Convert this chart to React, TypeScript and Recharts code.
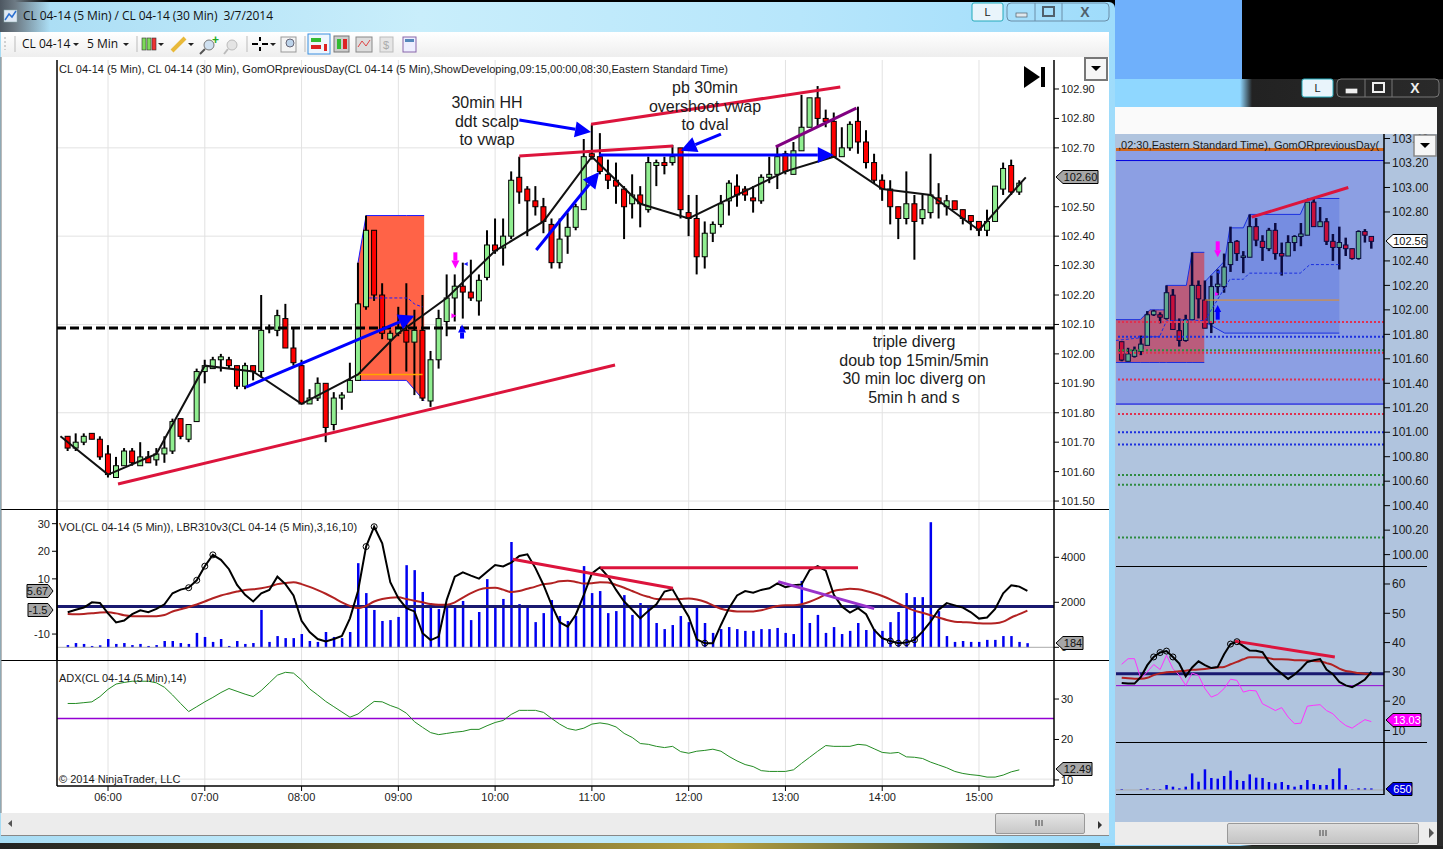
import {
  Area,
  Bar,
  CartesianGrid,
  ComposedChart,
  Line,
  ReferenceArea,
  ReferenceLine,
  XAxis,
  YAxis,
} from 'recharts';

const FONT = '"Liberation Sans", Arial, sans-serif';
const TITLE_FONT = '"Open Sans", "Noto Sans", sans-serif';

// ---- 5 min window ----
const hourLabels = ['06:00', '07:00', '08:00', '09:00', '10:00', '11:00', '12:00', '13:00', '14:00', '15:00'];
const hourIndex = [5, 17, 29, 41, 53, 65, 77, 89, 101, 113];

// 102.60 sits under the price flag, so it has no tick label of its own
const priceTicks = [101.5, 101.6, 101.7, 101.8, 101.9, 102.0, 102.1, 102.2, 102.3, 102.4, 102.5, 102.7, 102.8, 102.9];

// open, high, low, close
const bars5m = [
  [101.72, 101.72, 101.67, 101.68], [101.68, 101.73, 101.67, 101.7], [101.7, 101.73, 101.69, 101.72], [101.73, 101.73, 101.71, 101.71],
  [101.71, 101.72, 101.64, 101.65], [101.66, 101.69, 101.58, 101.59], [101.58, 101.65, 101.58, 101.62], [101.62, 101.68, 101.62, 101.67],
  [101.67, 101.68, 101.62, 101.63], [101.62, 101.7, 101.62, 101.65], [101.65, 101.67, 101.63, 101.63], [101.64, 101.68, 101.62, 101.66],
  [101.66, 101.72, 101.63, 101.68], [101.67, 101.78, 101.66, 101.77], [101.78, 101.78, 101.71, 101.72], [101.71, 101.76, 101.7, 101.76],
  [101.77, 101.95, 101.77, 101.94], [101.94, 101.98, 101.9, 101.96], [101.95, 101.99, 101.95, 101.98], [101.98, 102.0, 101.94, 101.99],
  [101.98, 101.99, 101.95, 101.96], [101.96, 101.96, 101.88, 101.89], [101.89, 101.97, 101.88, 101.96], [101.96, 101.96, 101.91, 101.94],
  [101.94, 102.2, 101.92, 102.08], [102.09, 102.1, 102.07, 102.09], [102.08, 102.15, 102.06, 102.13], [102.12, 102.17, 102.02, 102.02],
  [102.02, 102.09, 101.96, 101.97], [101.96, 101.98, 101.83, 101.83], [101.83, 101.88, 101.83, 101.85], [101.85, 101.92, 101.84, 101.9],
  [101.9, 101.9, 101.7, 101.75], [101.76, 101.87, 101.74, 101.85], [101.85, 101.87, 101.81, 101.86], [101.87, 101.97, 101.87, 101.91],
  [101.91, 102.31, 101.91, 102.17], [102.16, 102.47, 102.15, 102.42], [102.42, 102.42, 102.18, 102.2], [102.2, 102.24, 102.05, 102.07],
  [102.05, 102.08, 101.93, 102.07], [102.07, 102.16, 102.06, 102.09], [102.08, 102.24, 101.94, 102.04], [102.04, 102.15, 101.86, 102.08],
  [102.08, 102.2, 101.84, 101.85], [101.84, 102.01, 101.82, 101.98], [101.98, 102.15, 101.95, 102.12], [102.11, 102.27, 102.06, 102.19],
  [102.19, 102.27, 102.11, 102.23], [102.23, 102.31, 102.12, 102.21], [102.21, 102.32, 102.18, 102.19], [102.18, 102.27, 102.13, 102.25],
  [102.26, 102.42, 102.25, 102.37], [102.37, 102.46, 102.34, 102.35], [102.36, 102.46, 102.3, 102.4], [102.4, 102.62, 102.39, 102.59],
  [102.6, 102.67, 102.51, 102.55], [102.56, 102.57, 102.4, 102.52], [102.52, 102.57, 102.47, 102.5], [102.5, 102.53, 102.41, 102.45],
  [102.44, 102.46, 102.29, 102.31], [102.31, 102.46, 102.29, 102.39], [102.4, 102.48, 102.34, 102.43], [102.43, 102.51, 102.42, 102.5],
  [102.49, 102.73, 102.49, 102.67], [102.68, 102.78, 102.66, 102.67], [102.67, 102.75, 102.61, 102.62], [102.61, 102.66, 102.56, 102.59],
  [102.59, 102.65, 102.51, 102.57], [102.56, 102.57, 102.39, 102.5], [102.51, 102.61, 102.46, 102.54], [102.54, 102.57, 102.43, 102.51],
  [102.49, 102.67, 102.48, 102.65], [102.64, 102.66, 102.57, 102.65], [102.65, 102.67, 102.61, 102.64], [102.65, 102.71, 102.64, 102.67],
  [102.7, 102.7, 102.46, 102.49], [102.48, 102.54, 102.4, 102.46], [102.46, 102.54, 102.27, 102.33], [102.33, 102.45, 102.29, 102.41],
  [102.41, 102.45, 102.38, 102.44], [102.44, 102.54, 102.43, 102.51], [102.52, 102.59, 102.47, 102.58], [102.57, 102.61, 102.5, 102.54],
  [102.56, 102.57, 102.52, 102.54], [102.53, 102.57, 102.48, 102.52], [102.52, 102.61, 102.51, 102.6], [102.6, 102.67, 102.58, 102.61],
  [102.61, 102.71, 102.56, 102.67], [102.68, 102.69, 102.61, 102.62], [102.61, 102.72, 102.61, 102.69], [102.69, 102.88, 102.69, 102.77],
  [102.77, 102.87, 102.77, 102.87], [102.87, 102.91, 102.77, 102.8], [102.8, 102.83, 102.77, 102.79], [102.79, 102.82, 102.67, 102.67],
  [102.67, 102.77, 102.67, 102.7], [102.7, 102.79, 102.69, 102.78], [102.79, 102.84, 102.68, 102.72], [102.72, 102.76, 102.63, 102.65],
  [102.65, 102.68, 102.58, 102.59], [102.59, 102.61, 102.52, 102.56], [102.56, 102.59, 102.44, 102.5], [102.5, 102.5, 102.39, 102.46],
  [102.46, 102.62, 102.44, 102.51], [102.51, 102.54, 102.32, 102.45], [102.46, 102.54, 102.44, 102.49], [102.48, 102.68, 102.46, 102.54],
  [102.53, 102.58, 102.46, 102.51], [102.5, 102.54, 102.47, 102.52], [102.52, 102.52, 102.49, 102.49], [102.49, 102.49, 102.44, 102.46],
  [102.47, 102.47, 102.42, 102.45], [102.45, 102.45, 102.4, 102.42], [102.42, 102.49, 102.4, 102.45], [102.45, 102.57, 102.45, 102.57],
  [102.56, 102.65, 102.54, 102.63], [102.64, 102.66, 102.54, 102.55], [102.55, 102.59, 102.54, 102.58],
];

// the 30 min close line drawn over the 5 min bars
const line30Index = [-0.9, 5, 11, 17, 23, 29, 36, 41, 47, 53, 59, 65, 71, 77, 83, 89, 95, 101, 107, 113, 118.8];
const line30Price = [101.72, 101.59, 101.66, 101.96, 101.94, 101.83, 101.93, 102.07, 102.19, 102.35, 102.45, 102.67, 102.51, 102.46, 102.54, 102.62, 102.67, 102.56, 102.54, 102.42, 102.6];

// opening range block
const rangeIndex = [36, 37, 42, 44.2];
const rangeLow = [101.91, 101.91, 101.91, 101.84];
const rangeHigh = [102.31, 102.47, 102.47, 102.47];
const rangeMidIndex = [37.4, 42, 43, 44];
const rangeMidPrice = [102.19, 102.19, 102.17, 102.16];

const crimsonLines = [
  [6.24, 101.558, 67.87, 101.962],
  [56, 102.672, 75.05, 102.706],
  [64.9, 102.78, 95.8, 102.907],
];
const blueArrows = [
  [22.1, 101.887, 43, 102.13],
  [58.1, 102.353, 65.9, 102.618],
  [56, 102.795, 64.9, 102.754],
  [81, 102.747, 76, 102.69],
  [65.9, 102.676, 95, 102.676],
];

const volumes = [
  100, 190, 150, 60, 90, 370, 150, 190, 100, 150, 60, 100, 280, 280, 190, 150, 640, 460, 240, 370,
  60, 280, 150, 190, 1660, 240, 500, 410, 410, 590, 280, 240, 680, 460, 410, 680, 3740, 2410, 1660, 1170,
  1210, 1350, 3650, 3430, 2460, 1970, 1700, 1790, 1790, 2060, 1210, 1570, 3030, 1790, 2150, 4680, 1920, 1790, 1120, 1520,
  2100, 1390, 1170, 1390, 3610, 2410, 2500, 1520, 1610, 2320, 1440, 1970, 1790, 1080, 810, 990, 1390, 1120, 1790, 1080,
  640, 810, 900, 810, 730, 730, 810, 810, 860, 640, 590, 2950, 1080, 1440, 640, 900, 590, 730, 1080, 770,
  810, 730, 1120, 1570, 2410, 2230, 2230, 5560, 1610, 500, 240, 280, 240, 240, 330, 330, 500, 500, 240, 184,
];
const lbrFast = [
  -2.1, -1.2, -0.4, 1.5, 1.3, -2.5, -5.8, -5.1, -2.8, -1.4, -2.1, -0.9, 0.8, 4.8, 6.1, 6.8, 9.5, 14.6, 18.7, 16.9,
  13.5, 7.8, 4.2, 1.8, 4.8, 6, 10.8, 8.1, 4, -5.2, -9.3, -11.8, -12.7, -11.8, -10.7, -4.3, 5.6, 21.7, 28.9, 22.9,
  8.8, 3, -0.6, -1.8, -9.7, -12.2, -10.9, 2.4, 10.8, 12.4, 11.2, 10.1, 12.6, 15, 14.5, 15.9, 18.3, 18.9, 13.9, 7.8,
  0.6, -5.7, -7.3, -3, 4.2, 12, 14.2, 10.8, 6, 1.8, -1.2, -4.3, -1.6, 0.8, 5.4, 6.2, 1.2, -3.7, -11.9, -13.3,
  -13.3, -6.7, -0.6, 4, 5.6, 5, 6, 6.6, 8.4, 7, 7.7, 8, 13.2, 14.6, 13, 4.2, 0, -2.2, -0.6, -2.8,
  -8.5, -11.5, -12.5, -13.3, -13.1, -12.1, -9.1, -5.5, -1.2, 1.2, 0.4, -0.4, -2.1, -4.4, -4, -0.9, 4.8, 7.7, 7.2, 5.67,
];
const lbrSlow = [
  -2.7, -2.8, -2.7, -2.5, -2.2, -2.1, -2.5, -3.2, -3.5, -3.5, -3.5, -3.5, -3.1, -1.8, -1, -0.2, 0.7, 1.8, 3, 4,
  4.7, 5.4, 6, 6.2, 6.6, 7.2, 8.1, 8.5, 8.8, 8.1, 7.1, 5.9, 4.6, 3.1, 1.5, 0.2, -0.6, 0.2, 1.8, 2.7,
  3.2, 3.3, 2.7, 2.1, 1.5, 0.9, 0.6, 0.6, 1.5, 3.2, 4.8, 6.1, 6.7, 6.8, 6.1, 5.2, 5.6, 6.4, 7.2, 8.1,
  8.4, 9.1, 9.3, 8.9, 8.3, 8.4, 8.8, 8.7, 7.8, 6.8, 5.6, 4.4, 3.5, 2.7, 2.6, 2.6, 2.7, 2.9, 2.5, 1.7,
  0.4, -0.8, -1.5, -1.8, -1.8, -1.8, -1.4, -0.6, 0.2, 0.4, 0.4, 0.8, 1.7, 2.9, 4.4, 5.6, 6.1, 6.4, 6.2, 5.6,
  4.8, 3.8, 2.6, 1.1, -0.3, -1.5, -2.3, -3.2, -4, -4.9, -5.5, -5.7, -5.8, -6.1, -6.2, -6.1, -5.5, -4, -2.8, -1.5,
];
const lbrMarks = [15, 16, 17, 18, 37, 38, 79, 102, 103, 104, 105];

const adx = [
  28.9, 28.9, 29.1, 29.3, 30.6, 32.4, 33.7, 34.1, 34.4, 34.4, 34.4, 34, 32.9, 31, 28.9, 26.9, 28.1, 29.3, 30.4, 31.6,
  32.6, 31.9, 31.2, 30.6, 32.1, 34, 35.9, 36.6, 36.4, 34.7, 32.5, 31, 29.4, 28.1, 26.8, 25.5, 26.3, 27.9, 29.4, 29.3,
  28.4, 27.7, 26.5, 24.4, 23, 21.7, 21.2, 21.5, 21.8, 22, 22.5, 22.5, 23.4, 24.2, 24.7, 26.2, 27.2, 27.2, 27.2, 26.7,
  25.2, 23.8, 22.7, 22.3, 22.8, 23.8, 24.1, 23.8, 23.1, 21.5, 20.5, 19, 18.8, 18.3, 18, 18.3, 17, 16.6, 17.1, 17.3,
  17.6, 17.1, 15.8, 14.7, 13.8, 13.3, 12.3, 12.1, 12.1, 12.1, 12.5, 14.1, 15.6, 17.1, 18.5, 18.3, 18.3, 18.3, 18.8, 18.6,
  17.7, 16.8, 16.6, 16.8, 15.7, 15.6, 15.3, 14.4, 13.7, 13, 12.1, 11.6, 11.3, 11.1, 10.7, 10.7, 11.2, 12, 12.49,
];

// ---- 30 min window behind it ----
const bars30m = [
  [101.74, 101.74, 101.58, 101.59], [101.58, 101.69, 101.58, 101.64], [101.62, 101.7, 101.61, 101.67], [101.66, 101.79, 101.63, 101.72],
  [101.71, 101.99, 101.71, 101.96], [101.96, 102.0, 101.95, 101.99], [101.96, 101.98, 101.89, 101.94], [101.93, 102.2, 101.92, 102.14],
  [102.12, 102.17, 101.84, 101.84], [101.83, 101.93, 101.7, 101.75], [101.75, 101.96, 101.74, 101.92], [101.92, 102.47, 101.92, 102.2],
  [102.2, 102.24, 101.93, 102.09], [102.08, 102.24, 101.85, 101.85], [101.89, 102.28, 101.81, 102.19], [102.19, 102.33, 102.12, 102.21],
  [102.19, 102.46, 102.14, 102.35], [102.37, 102.68, 102.31, 102.55], [102.56, 102.57, 102.4, 102.46], [102.44, 102.48, 102.3, 102.44],
  [102.43, 102.78, 102.43, 102.68], [102.68, 102.75, 102.52, 102.57], [102.56, 102.61, 102.4, 102.51], [102.5, 102.67, 102.48, 102.65],
  [102.65, 102.71, 102.41, 102.46], [102.46, 102.55, 102.28, 102.44], [102.44, 102.61, 102.44, 102.55], [102.55, 102.61, 102.48, 102.6],
  [102.6, 102.71, 102.52, 102.62], [102.61, 102.88, 102.61, 102.88], [102.88, 102.91, 102.68, 102.68], [102.68, 102.84, 102.68, 102.72],
  [102.72, 102.75, 102.53, 102.56], [102.56, 102.62, 102.4, 102.51], [102.51, 102.68, 102.33, 102.55], [102.53, 102.59, 102.44, 102.5],
  [102.5, 102.5, 102.41, 102.42], [102.42, 102.65, 102.41, 102.64], [102.64, 102.66, 102.55, 102.61], [102.6, 102.6, 102.5, 102.56],
];
const priceTicks30 = [100, 100.2, 100.4, 100.6, 100.8, 101, 101.2, 101.4, 101.6, 101.8, 102, 102.2, 102.4, 102.8, 103, 103.2, 103.4];

const redZoneIndex = [-0.9, 2.9, 4.4, 5.9, 6.9, 7, 10.1, 11, 12.9];
const redZoneLow = [101.57, 101.57, 101.57, 101.57, 101.57, 101.57, 101.57, 101.57, 101.57];
const redZoneHigh = [101.92, 101.92, 102, 102, 102, 102.2, 102.2, 102.47, 102.47];
const blueZoneIndex = [13, 16.1, 16.9, 19, 19.95, 27.9, 29, 34];
const blueZoneLow = [101.9, 101.81, 101.81, 101.81, 101.81, 101.81, 101.81, 101.81];
const blueZoneHigh = [102.23, 102.4, 102.67, 102.67, 102.78, 102.78, 102.91, 102.91];
const devIndex = [-0.9, 4.4, 5.9, 7, 10.1, 13, 14, 16.9, 19, 19.95, 27.9, 29.4, 34];
const devPrice = [101.75, 101.78, 101.78, 101.91, 101.92, 101.91, 102.0, 102.25, 102.25, 102.3, 102.3, 102.37, 102.37];

const redLevels = [101.9, 101.65, 101.43, 101.15];
const blueLevels = [101.78, 101.0, 100.9];
const greenLevels = [101.67, 100.65, 100.57, 100.14];
const solidLevels = [103.22, 101.23];

const lbrFast30 = [26.2, 26, 26, 28.3, 32.3, 35.1, 36.6, 37.1, 35.1, 32.8, 28.5, 31.5, 33.6, 32.3, 31.3, 31.7, 36, 39.5, 40.3, 38.8, 37.3, 37.2, 36.7, 33.4, 31.1, 29.4, 27.6, 29.1, 31.1, 33.4, 34, 34.4, 30.8, 29.2, 26.6, 25.4, 24.8, 26, 27.4, 30];
const lbrSlow30 = [28, 27.8, 27.7, 27.7, 28, 28.9, 29.5, 29.9, 30, 30.2, 30.4, 30.7, 30.8, 31, 31.3, 31.5, 31.7, 32.6, 33.4, 34.3, 35, 35, 34.9, 34.7, 34.3, 34.3, 34.2, 34, 34, 33.9, 33.7, 33.6, 33, 32.3, 31.1, 30.3, 30, 29.6, 29.4, 29.2];
const adx30 = [32.6, 34.5, 34.5, 27.7, 30, 32.5, 30.8, 35.7, 31.1, 28.8, 25.4, 29.6, 28.8, 24.3, 21.4, 22.3, 24.3, 27.5, 27.1, 23.1, 23.7, 23.5, 19.1, 18, 16.8, 17.8, 14.6, 12.3, 12.5, 18.3, 18.6, 18.8, 16.8, 15.7, 13.4, 11.7, 10.8, 12.3, 13.7, 13.03];
const marks30 = [5, 6, 7, 8, 17, 18];
const volumes30 = [410, 0, 0, 410, 690, 410, 410, 2070, 1380, 690, 1380, 6900, 3450, 8560, 4970, 4690, 5800, 8000, 4140, 3730, 6490, 5110, 4970, 3310, 2760, 3310, 2070, 1380, 2070, 4140, 2480, 2070, 2070, 4550, 8970, 2070, 280, 690, 690, 650];

const mainData = bars5m.map((b, i) => ({ i, open: b[0], high: b[1], low: b[2], close: b[3], range: [b[2], b[1]] }));
const oscData = volumes.map((v, i) => ({ i, vol: v, fast: lbrFast[i], slow: lbrSlow[i] }));
const adxData = adx.map((v, i) => ({ i, adx: v }));
const line30Data = line30Index.map((i, k) => ({ i, v: line30Price[k] }));
const rangeData = rangeIndex.map((i, k) => ({ i, band: [rangeLow[k], rangeHigh[k]] }));
const rangeMidData = rangeMidIndex.map((i, k) => ({ i, v: rangeMidPrice[k] }));

const main30Data = bars30m.map((b, i) => ({ i, open: b[0], high: b[1], low: b[2], close: b[3], range: [b[2], b[1]] }));
const redZoneData = redZoneIndex.map((i, k) => ({ i, band: [redZoneLow[k], redZoneHigh[k]] }));
const blueZoneData = blueZoneIndex.map((i, k) => ({ i, band: [blueZoneLow[k], blueZoneHigh[k]] }));
const devData = devIndex.map((i, k) => ({ i, v: devPrice[k] }));
const osc30Data = lbrFast30.map((v, i) => ({ i, fast: v, slow: lbrSlow30[i], adx: adx30[i] }));
const vol30Data = volumes30.map((v, i) => ({ i, vol: v }));

const X_DOMAIN: [number, number] = [-1.327, 122.3];
const X30_DOMAIN: [number, number] = [-0.89, 40.98];
const tickStyle = { fontSize: 11, fill: '#1a1a1a', fontFamily: FONT };
const tickStyle30 = { fontSize: 12, fill: '#1a1a1a', fontFamily: FONT };
const axisLine = { stroke: '#000', strokeWidth: 1.5 };
const tickLine = { stroke: '#000' };
const GRID = '#e2e2e2';

// the bar's own width comes out too thin on a number axis, so the body gets a fixed one
function candleShape(green: string, red: string, wick: string, wickWidth: number, bodyWidth: number) {
  return (props: any) => {
    const { x, y, width, height, payload } = props;
    const ppu = height / (payload.high - payload.low || 1);
    const top = y + (payload.high - Math.max(payload.open, payload.close)) * ppu;
    const bottom = y + (payload.high - Math.min(payload.open, payload.close)) * ppu;
    const mid = x + width / 2;
    return (
      <g>
        <line x1={mid} x2={mid} y1={y} y2={y + height} stroke={wick} strokeWidth={wickWidth} />
        <rect
          x={mid - bodyWidth / 2}
          y={top}
          width={bodyWidth}
          height={Math.max(bottom - top, 1.5)}
          fill={payload.close >= payload.open ? green : red}
          stroke={wick}
          strokeWidth={1}
        />
      </g>
    );
  };
}

// trend line with a head on its far end
function arrowShape(color: string, width: number, head: number) {
  return (props: any) => {
    const { x1, y1, x2, y2 } = props;
    const a = Math.atan2(y2 - y1, x2 - x1);
    const bx = x2 - Math.cos(a) * head;
    const by = y2 - Math.sin(a) * head;
    const nx = -Math.sin(a) * head * 0.5;
    const ny = Math.cos(a) * head * 0.5;
    return (
      <g>
        <line x1={x1} y1={y1} x2={bx} y2={by} stroke={color} strokeWidth={width} />
        <polygon points={`${x2},${y2} ${bx + nx},${by + ny} ${bx - nx},${by - ny}`} fill={color} />
      </g>
    );
  };
}

function markedDot(marks: number[]) {
  return (props: any) => {
    const { cx, cy, payload, index } = props;
    if (!marks.includes(payload.i)) return <g key={index} />;
    return <circle key={index} cx={cx} cy={cy} r={3} fill="none" stroke="#000" strokeWidth={1} />;
  };
}

function segment(x1: number, y1: number, x2: number, y2: number): any {
  return [{ x: x1, y: y1 }, { x: x2, y: y2 }];
}

function Flag(props: { x: number; y: number; w: number; text: string; fill: string; color: string; dir?: 'left' | 'right' }) {
  const { x, y, w, text, fill, color, dir = 'left' } = props;
  const h = 6.5;
  const points =
    dir === 'left'
      ? `${x},${y} ${x + 7},${y - h} ${x + w},${y - h} ${x + w},${y + h} ${x + 7},${y + h}`
      : `${x},${y - h} ${x + w - 5},${y - h} ${x + w},${y} ${x + w - 5},${y + h} ${x},${y + h}`;
  const tx = dir === 'left' ? x + 7 + (w - 7) / 2 : x + (w - 5) / 2;
  return (
    <g>
      <polygon points={points} fill={fill} stroke="#000" strokeWidth={1} />
      <text x={tx} y={y + 4} textAnchor="middle" fontSize={11} fontFamily={FONT} fill={color}>
        {text}
      </text>
    </g>
  );
}

function Note({ x, y, lines, step }: { x: number; y: number; lines: string[]; step: number[] }) {
  return (
    <g>
      {lines.map((t, k) => (
        <text key={t} x={x} y={y + step[k]} textAnchor="middle" fontSize={16} fontFamily={FONT} fill="#1c1c1c">
          {t}
        </text>
      ))}
    </g>
  );
}

function WinButtons({ x, y, dark }: { x: number; y: number; dark?: boolean }) {
  const ink = dark ? '#eee' : '#50606c';
  const edge = dark ? '#777' : '#6a8ea8';
  return (
    <g>
      <rect x={x} y={y} width={31} height={18} rx={2} fill="#e9f4fb" stroke="#2ab" />
      <text x={x + 15.5} y={y + 13} textAnchor="middle" fontSize={11} fontFamily={FONT} fill="#222">L</text>
      <rect x={x + 35} y={y} width={102} height={18} rx={4} fill="none" stroke={edge} />
      <line x1={x + 63} x2={x + 63} y1={y} y2={y + 18} stroke={edge} />
      <line x1={x + 90} x2={x + 90} y1={y} y2={y + 18} stroke={edge} />
      <rect x={x + 44} y={y + 10} width={11} height={4} fill={dark ? '#eee' : '#dfe8ee'} stroke={ink} strokeWidth={0.7} />
      <rect x={x + 71} y={y + 4} width={11} height={9} fill="none" stroke={ink} strokeWidth={2} />
      <text x={x + 113} y={y + 14} textAnchor="middle" fontSize={14} fontWeight={700} fontFamily={FONT} fill={ink}>X</text>
    </g>
  );
}

function Grip({ x, y }: { x: number; y: number }) {
  return (
    <g stroke="#444">
      <line x1={x} x2={x} y1={y} y2={y + 6} />
      <line x1={x + 3} x2={x + 3} y1={y} y2={y + 6} />
      <line x1={x + 6} x2={x + 6} y1={y} y2={y + 6} />
    </g>
  );
}

function Toolbar() {
  const t = { fontSize: 12, fontFamily: TITLE_FONT, fill: '#111' };
  const caret = (x: number) => <polygon points={`${x},43 ${x + 6},43 ${x + 3},46`} fill="#222" />;
  return (
    <g>
      <line x1={5} x2={5} y1={37} y2={50} stroke="#aaa" strokeDasharray="2 2" />
      <line x1={15} x2={15} y1={36} y2={52} stroke="#bbb" />
      <text x={22} y={48} {...t}>CL 04-14</text>
      {caret(73)}
      <text x={87} y={48} {...t}>5 Min</text>
      {caret(123)}
      <line x1={137} x2={137} y1={36} y2={52} stroke="#bbb" />
      <rect x={142} y={38} width={4} height={12} fill="#7ddb5a" stroke="#333" strokeWidth={0.6} />
      <rect x={147} y={38} width={4} height={12} fill="#7ddb5a" stroke="#333" strokeWidth={0.6} />
      <rect x={152} y={38} width={4} height={12} fill="#e33" stroke="#333" strokeWidth={0.6} />
      {caret(158)}
      <line x1={172} y1={51} x2={185} y2={38} stroke="#e8b93a" strokeWidth={4} />
      {caret(188)}
      <circle cx={209} cy={45} r={5} fill="#cfe0f0" stroke="#777" />
      <line x1={205} y1={49} x2={200} y2={54} stroke="#555" strokeWidth={2} />
      <text x={212} y={44} fontSize={12} fontWeight={700} fill="#2a2" fontFamily={FONT}>+</text>
      <circle cx={232} cy={45} r={5} fill="#e4e4e4" stroke="#bbb" />
      <line x1={228} y1={49} x2={224} y2={54} stroke="#bbb" strokeWidth={2} />
      <line x1={247} x2={247} y1={36} y2={52} stroke="#bbb" />
      <line x1={252} x2={258} y1={44} y2={44} stroke="#000" strokeWidth={2} />
      <line x1={262} x2={268} y1={44} y2={44} stroke="#000" strokeWidth={2} />
      <line x1={260} x2={260} y1={37} y2={41} stroke="#000" strokeWidth={2} />
      <line x1={260} x2={260} y1={47} y2={51} stroke="#000" strokeWidth={2} />
      {caret(270)}
      <rect x={281} y={37} width={15} height={15} fill="#f4f4f4" stroke="#999" />
      <circle cx={290} cy={43} r={4} fill="#bcd3ea" stroke="#667" />
      <line x1={305} x2={305} y1={36} y2={52} stroke="#bbb" />
      <rect x={308} y={34} width={22} height={20} fill="#eef6fd" stroke="#3b8fe0" />
      <rect x={311} y={38} width={10} height={4} fill="#3b3" />
      <rect x={311} y={45} width={10} height={4} fill="#d22" />
      <rect x={324} y={44} width={3} height={7} fill="#d22" />
      <rect x={334} y={36} width={15} height={16} fill="#ccc" stroke="#777" />
      <rect x={337} y={39} width={4} height={10} fill="#3b3" />
      <rect x={343} y={39} width={4} height={10} fill="#d22" />
      <rect x={356} y={37} width={16} height={15} fill="#ddd" stroke="#888" />
      <polyline points="358,47 362,41 366,46 370,40" fill="none" stroke="#d44" />
      <rect x={380} y={37} width={13} height={15} fill="#e6e6e6" stroke="#bbb" />
      <text x={383} y={49} fontSize={11} fill="#aaa" fontFamily={FONT}>$</text>
      <rect x={403} y={37} width={13} height={15} fill="#eef" stroke="#86a" />
      <rect x={405} y={39} width={9} height={3} fill="#58b" />
    </g>
  );
}

export default function App() {
  return (
    <div style={{ position: 'absolute', left: 0, top: 0, width: 1443, height: 849, overflow: 'hidden', background: '#000' }}>
      {/* desktop behind the windows */}
      <div style={{ position: 'absolute', left: 1115, top: 0, width: 127, height: 79, background: '#6fb0fb' }} />
      <div style={{ position: 'absolute', left: 0, top: 843, width: 1443, height: 6, background: 'linear-gradient(90deg,#222,#4a4a2a 20%,#b5a040 50%,#3a4a3a 70%,#222)' }} />

      {/* 30 min window */}
      <div style={{ position: 'absolute', left: 1100, top: 79, width: 343, height: 767, background: 'linear-gradient(90deg,#8fd7ff 0,#8fd7ff 140px,#222 152px,#2a2a2a 100%)' }} />
      <div style={{ position: 'absolute', left: 1115, top: 107, width: 322, height: 27, background: '#fafafa' }} />
      <div style={{ position: 'absolute', left: 1115, top: 134, width: 322, height: 688, background: '#b0c4de' }} />
      <div style={{ position: 'absolute', left: 1115, top: 822, width: 322, height: 23, background: '#ececec' }} />
      <div style={{ position: 'absolute', left: 1227, top: 823, width: 192, height: 21, background: 'linear-gradient(#ddd,#c4c4c4)', border: '1px solid #999', borderRadius: 2, boxSizing: 'border-box' }} />

      <div style={{ position: 'absolute', left: 1116, top: 134 }}>
        <ComposedChart width={312} height={432} data={main30Data} margin={{ top: 0, right: 0, bottom: 0, left: 0 }}>
          <XAxis dataKey="i" type="number" domain={X30_DOMAIN} allowDataOverflow hide />
          <YAxis
            orientation="right"
            width={44}
            domain={[99.907, 103.437]}
            allowDataOverflow
            ticks={priceTicks30}
            interval={0}
            tickFormatter={(v: number) => v.toFixed(2)}
            tick={tickStyle30}
            axisLine={axisLine}
            tickLine={tickLine}
            tickSize={6}
          />
          <ReferenceArea y1={101.23} y2={103.31} fill="#8c9fe3" fillOpacity={1} stroke="none" />
          <Area data={redZoneData} dataKey="band" type="linear" fill="#c2506a" fillOpacity={0.85} stroke="#1a2fe0" strokeWidth={1} dot={false} isAnimationActive={false} />
          <Area data={blueZoneData} dataKey="band" type="linear" fill="#7088e0" fillOpacity={0.8} stroke="#1a2fe0" strokeWidth={1} dot={false} isAnimationActive={false} />
          <Line data={devData} dataKey="v" type="linear" stroke="#1a2fe0" strokeWidth={1} strokeDasharray="3 2" dot={false} isAnimationActive={false} />
          <ReferenceLine y={103.31} stroke="#d2691e" strokeWidth={3} />
          {solidLevels.map((v) => (
            <ReferenceLine key={v} y={v} stroke="#0000e0" strokeWidth={1} />
          ))}
          {redLevels.map((v) => (
            <ReferenceLine key={v} y={v} stroke="#e0304f" strokeWidth={2} strokeDasharray="2 2" />
          ))}
          {blueLevels.map((v) => (
            <ReferenceLine key={v} y={v} stroke="#1a2fe0" strokeWidth={2} strokeDasharray="2 2" />
          ))}
          {greenLevels.map((v) => (
            <ReferenceLine key={v} y={v} stroke="#2e8b40" strokeWidth={2} strokeDasharray="2 2" />
          ))}
          <ReferenceLine segment={segment(-0.9, 101.84, 12, 101.84)} stroke="#e89020" strokeWidth={1} />
          <ReferenceLine segment={segment(13, 102.08, 34, 102.08)} stroke="#e89020" strokeWidth={1} />
          <Bar dataKey="range" barSize={5} shape={candleShape('#5fa98f', '#c8103c', '#0a0a40', 2.5, 4.5)} isAnimationActive={false} />
          <ReferenceLine segment={segment(20.3, 102.758, 35.4, 103.0)} stroke="#dc143c" strokeWidth={3} />
          <ReferenceLine segment={segment(15, 102.56, 15, 102.43)} stroke="none" shape={arrowShape('#ff00ff', 4, 7)} />
          <ReferenceLine segment={segment(15, 101.92, 15, 102.04)} stroke="none" shape={arrowShape('#0000ff', 4, 7)} />
          <ReferenceLine segment={segment(15.1, 102.31, 14.7, 102.31)} stroke="none" shape={arrowShape('#1a2fe0', 1, 4)} />
          <ReferenceLine segment={segment(14.7, 102.13, 15.2, 102.13)} stroke="none" shape={arrowShape('#ff00ff', 1, 4)} />
        </ComposedChart>
      </div>

      <div style={{ position: 'absolute', left: 1116, top: 566 }}>
        <ComposedChart width={312} height={176} data={osc30Data} margin={{ top: 0, right: 0, bottom: 0, left: 0 }}>
          <XAxis dataKey="i" type="number" domain={X30_DOMAIN} allowDataOverflow hide />
          <YAxis
            orientation="right"
            width={44}
            domain={[6.07, 66.14]}
            allowDataOverflow
            ticks={[10, 20, 30, 40, 50, 60]}
            interval={0}
            tick={tickStyle30}
            axisLine={axisLine}
            tickLine={tickLine}
            tickSize={6}
          />
          <ReferenceLine y={25.3} stroke="#9400d3" strokeWidth={1} />
          <ReferenceLine y={29.4} stroke="#191970" strokeWidth={3} />
          <Line dataKey="adx" type="linear" stroke="#ff33ff" strokeWidth={1} dot={false} isAnimationActive={false} />
          <Line dataKey="slow" type="monotone" stroke="#b22222" strokeWidth={2} dot={false} isAnimationActive={false} />
          <Line dataKey="fast" type="linear" stroke="#000" strokeWidth={2} dot={markedDot(marks30)} isAnimationActive={false} />
          <ReferenceLine segment={segment(17.7, 40.5, 33.3, 35.1)} stroke="#dc143c" strokeWidth={3} />
        </ComposedChart>
      </div>

      <div style={{ position: 'absolute', left: 1116, top: 742 }}>
        <ComposedChart width={312} height={53} data={vol30Data} margin={{ top: 0, right: 0, bottom: 0, left: 0 }}>
          <XAxis dataKey="i" type="number" domain={X30_DOMAIN} allowDataOverflow hide />
          <YAxis orientation="right" width={44} domain={[-2070, 19870]} allowDataOverflow ticks={[]} axisLine={axisLine} tickLine={false} />
          <ReferenceLine y={0} stroke="#aaa" strokeWidth={1} />
          <Bar dataKey="vol" barSize={2.5} fill="#0000f0" isAnimationActive={false} />
        </ComposedChart>
      </div>

      {/* 5 min window frame */}
      <div style={{ position: 'absolute', left: 0, top: 2, width: 1115, height: 841, borderRadius: '6px 6px 0 0', background: 'linear-gradient(90deg,#a8dcf4 0,#c9eefb 420px,#b7e6fb 800px,#9fdcfb 1115px)' }} />
      <div style={{ position: 'absolute', left: 0, top: 0, width: 50, height: 32, background: 'linear-gradient(90deg,#4d5761 0,#6d7a84 15px,rgba(168,220,244,0) 50px)' }} />
      <div style={{ position: 'absolute', left: 1, top: 32, width: 1108, height: 25, background: 'linear-gradient(#fff,#eee)' }} />
      <div style={{ position: 'absolute', left: 1, top: 57, width: 1108, height: 756, background: '#fff' }} />
      <div style={{ position: 'absolute', left: 1, top: 813, width: 1108, height: 23, background: '#ececec', borderBottom: '1px solid #888', boxSizing: 'border-box' }} />
      <div style={{ position: 'absolute', left: 995, top: 813, width: 90, height: 21, background: 'linear-gradient(#e4e4e4,#c8c8c8)', border: '1px solid #999', borderRadius: 2, boxSizing: 'border-box' }} />

      {/* price panel */}
      <div style={{ position: 'absolute', left: 57, top: 60 }}>
        <ComposedChart width={1053} height={449} data={mainData} margin={{ top: 0, right: 0, bottom: 0, left: 0 }}>
          <CartesianGrid stroke={GRID} verticalValues={hourIndex} horizontalValues={[101.5, 101.8, 102.1, 102.4, 102.7]} />
          <XAxis dataKey="i" type="number" domain={X_DOMAIN} allowDataOverflow hide />
          <YAxis
            orientation="right"
            width={56}
            domain={[101.473, 102.9985]}
            allowDataOverflow
            ticks={priceTicks}
            interval={0}
            tickFormatter={(v: number) => v.toFixed(2)}
            tick={tickStyle}
            axisLine={axisLine}
            tickLine={tickLine}
            tickSize={5}
          />
          <Area data={rangeData} dataKey="band" type="linear" fill="#ff6347" fillOpacity={1} stroke="#1a1aff" strokeWidth={1} dot={false} isAnimationActive={false} />
          <ReferenceLine segment={segment(36, 101.93, 44, 101.93)} stroke="#ffa500" strokeWidth={1.5} />
          <Line data={rangeMidData} dataKey="v" type="monotone" stroke="#1a1aff" strokeWidth={1} strokeDasharray="3 2" dot={false} isAnimationActive={false} />
          <ReferenceLine y={102.088} stroke="#000" strokeWidth={3} strokeDasharray="9 4" />
          <Bar dataKey="range" barSize={5} shape={candleShape('#90ee90', '#ff0000', '#000', 2, 5)} isAnimationActive={false} />
          <Line data={line30Data} dataKey="v" type="linear" stroke="#111" strokeWidth={2} dot={false} isAnimationActive={false} />
          {crimsonLines.map((s) => (
            <ReferenceLine key={s[0]} segment={segment(s[0], s[1], s[2], s[3])} stroke="#dc143c" strokeWidth={3} />
          ))}
          <ReferenceLine segment={segment(87.8, 102.703, 97.8, 102.835)} stroke="#800080" strokeWidth={3} />
          {blueArrows.map((s) => (
            <ReferenceLine key={s[0]} segment={segment(s[0], s[1], s[2], s[3])} stroke="none" shape={arrowShape('#0000ff', 3, 16)} />
          ))}
          <ReferenceLine segment={segment(48.07, 102.345, 48.07, 102.29)} stroke="none" shape={arrowShape('#ff00ff', 4, 8)} />
          <ReferenceLine segment={segment(48.9, 102.052, 48.9, 102.1)} stroke="none" shape={arrowShape('#0000ff', 4, 8)} />
          <ReferenceLine segment={segment(49.6, 102.305, 49.1, 102.305)} stroke="none" shape={arrowShape('#1a1aff', 1, 4)} />
          <ReferenceLine segment={segment(47.6, 102.13, 48.2, 102.13)} stroke="none" shape={arrowShape('#ff00ff', 1, 5)} />
        </ComposedChart>
      </div>

      {/* volume and LBR panel */}
      <div style={{ position: 'absolute', left: 0, top: 510 }}>
        <ComposedChart width={1110} height={150} data={oscData} margin={{ top: 0, right: 0, bottom: 0, left: 0 }}>
          <CartesianGrid stroke={GRID} yAxisId="lbr" horizontal={false} verticalValues={hourIndex} />
          <XAxis dataKey="i" type="number" domain={X_DOMAIN} allowDataOverflow hide />
          <YAxis
            yAxisId="lbr"
            orientation="left"
            width={57}
            domain={[-19.4, 34.96]}
            allowDataOverflow
            ticks={[-10, 10, 20, 30]}
            interval={0}
            tick={tickStyle}
            axisLine={axisLine}
            tickLine={tickLine}
            tickSize={5}
          />
          <YAxis
            yAxisId="vol"
            orientation="right"
            width={56}
            domain={[-564, 6102]}
            allowDataOverflow
            ticks={[0, 2000, 4000]}
            interval={0}
            tick={tickStyle}
            axisLine={axisLine}
            tickLine={tickLine}
            tickSize={5}
          />
          <ReferenceLine yAxisId="vol" y={0} stroke="#aaa" strokeWidth={1} />
          <ReferenceLine yAxisId="lbr" y={0} stroke="#191970" strokeWidth={3} />
          <Bar yAxisId="vol" dataKey="vol" barSize={2.5} fill="#0000f0" isAnimationActive={false} />
          <Line yAxisId="lbr" dataKey="slow" type="monotone" stroke="#b22222" strokeWidth={2} dot={false} isAnimationActive={false} />
          <Line yAxisId="lbr" dataKey="fast" type="linear" stroke="#000" strokeWidth={2} dot={markedDot(lbrMarks)} isAnimationActive={false} />
          <ReferenceLine yAxisId="lbr" segment={segment(55.2, 17.1, 75.05, 6.6)} stroke="#dc143c" strokeWidth={3} />
          <ReferenceLine yAxisId="lbr" segment={segment(66.05, 14, 98, 14)} stroke="#dc143c" strokeWidth={3} />
          <ReferenceLine yAxisId="lbr" segment={segment(88.1, 9, 100, -0.8)} stroke="#9932cc" strokeWidth={3} />
        </ComposedChart>
      </div>

      {/* ADX panel with the time axis */}
      <div style={{ position: 'absolute', left: 57, top: 661 }}>
        <ComposedChart width={1053} height={145} data={adxData} margin={{ top: 0, right: 0, bottom: 0, left: 0 }}>
          <CartesianGrid stroke={GRID} verticalValues={hourIndex} horizontalValues={[10.2]} />
          <XAxis
            dataKey="i"
            type="number"
            domain={X_DOMAIN}
            allowDataOverflow
            height={20}
            ticks={hourIndex}
            interval={0}
            tickFormatter={(v: number) => hourLabels[hourIndex.indexOf(v)]}
            tick={tickStyle}
            axisLine={axisLine}
            tickLine={tickLine}
            tickSize={5}
          />
          <YAxis
            orientation="right"
            width={56}
            domain={[8.5, 39.4]}
            allowDataOverflow
            ticks={[10, 20, 30]}
            interval={0}
            tick={tickStyle}
            axisLine={axisLine}
            tickLine={tickLine}
            tickSize={5}
          />
          <ReferenceLine y={25.2} stroke="#9400d3" strokeWidth={1.5} />
          <Line dataKey="adx" type="linear" stroke="#228b22" strokeWidth={1} dot={false} isAnimationActive={false} />
        </ComposedChart>
      </div>

      {/* panel borders, captions, notes and price flags */}
      <svg width={1443} height={849} style={{ position: 'absolute', left: 0, top: 0, pointerEvents: 'none' }}>
        <line x1={57} x2={57} y1={60} y2={786} stroke="#000" strokeWidth={1.5} />
        <line x1={1} x2={1109} y1={509.5} y2={509.5} stroke="#000" />
        <line x1={1} x2={1109} y1={660.5} y2={660.5} stroke="#000" />
        <line x1={1} x2={1} y1={57} y2={813} stroke="#777" />
        <line x1={1116} x2={1427} y1={566.5} y2={566.5} stroke="#000" />
        <line x1={1116} x2={1427} y1={742.5} y2={742.5} stroke="#000" />
        <line x1={1116} x2={1384} y1={794.5} y2={794.5} stroke="#000" />

        <rect x={4} y={10} width={13} height={12} fill="#dfe8f4" stroke="#8aa" strokeWidth={0.5} />
        <polyline points="5,20 9,14 12,17 16,11" fill="none" stroke="#2a6fd0" strokeWidth={1.5} />
        <text x={23} y={20} fontSize={12} fontFamily={TITLE_FONT} fill="#111" textLength={250}>CL 04-14 (5 Min) / CL 04-14 (30 Min){'\u00a0\u00a0'}3/7/2014</text>
        <Toolbar />
        <WinButtons x={972} y={3} />
        <WinButtons x={1302} y={79} dark />

        <text x={59} y={73} fontSize={11} fontFamily={FONT} fill="#1a1a1a" textLength={669}>
          CL 04-14 (5 Min), CL 04-14 (30 Min), GomORpreviousDay(CL 04-14 (5 Min),ShowDeveloping,09:15,00:00,08:30,Eastern Standard Time)
        </text>
        <text x={59} y={531} fontSize={11} fontFamily={FONT} fill="#1a1a1a">VOL(CL 04-14 (5 Min)), LBR310v3(CL 04-14 (5 Min),3,16,10)</text>
        <text x={59} y={682} fontSize={11} fontFamily={FONT} fill="#1a1a1a">ADX(CL 04-14 (5 Min),14)</text>
        <text x={59} y={783} fontSize={11} fontFamily={FONT} fill="#1a1a1a">© 2014 NinjaTrader, LLC</text>
        <text x={1118} y={149} fontSize={11} fontFamily={FONT} fill="#1a1a1a">,02:30,Eastern Standard Time), GomORpreviousDay(</text>

        <Note x={487} y={108} lines={['30min HH', 'ddt scalp', 'to vwap']} step={[0, 19, 37]} />
        <Note x={705} y={93} lines={['pb 30min', 'overshoot vwap', 'to dval']} step={[0, 19, 37]} />
        <Note x={914} y={347} lines={['triple diverg', 'doub top 15min/5min', '30 min loc diverg on', '5min h and s']} step={[0, 19, 37, 56]} />

        <polygon points="1024,66 1024,88 1040,77" fill="#000" />
        <rect x={1041} y={67} width={4} height={20} fill="#000" />
        <rect x={1085} y={58} width={22} height={22} fill="#f6f6f6" stroke="#777" strokeWidth={2} />
        <polygon points="1091,66 1101,66 1096,71" fill="#000" />
        <rect x={1414} y={135} width={22} height={21} fill="#f6f6f6" stroke="#888" strokeWidth={1.5} />
        <polygon points="1420,143 1430,143 1425,148" fill="#000" />

        <polygon points="12,820 8,823.5 12,827" fill="#555" />
        <polygon points="1098,821 1098,829 1102,825" fill="#333" />
        <polygon points="1429,828 1429,838 1434,833" fill="#555" />
        <Grip x={1036} y={820} />
        <Grip x={1320} y={830} />

        <Flag x={1056} y={177} w={42} text="102.60" fill="#a6a6a6" color="#111" />
        <Flag x={27} y={591} w={26} text="5.67" fill="#a6a6a6" color="#111" dir="right" />
        <Flag x={28} y={610} w={25} text="-1.5" fill="#a6a6a6" color="#111" dir="right" />
        <Flag x={1056} y={643} w={27} text="184" fill="#a6a6a6" color="#111" />
        <Flag x={1056} y={769} w={36} text="12.49" fill="#a6a6a6" color="#111" />
        <Flag x={1386} y={241} w={41} text="102.56" fill="#fff" color="#111" />
        <Flag x={1386} y={720} w={35} text="13.03" fill="#ff00ff" color="#fff" />
        <Flag x={1386} y={789} w={26} text="650" fill="#0000e0" color="#fff" />
      </svg>
    </div>
  );
}
